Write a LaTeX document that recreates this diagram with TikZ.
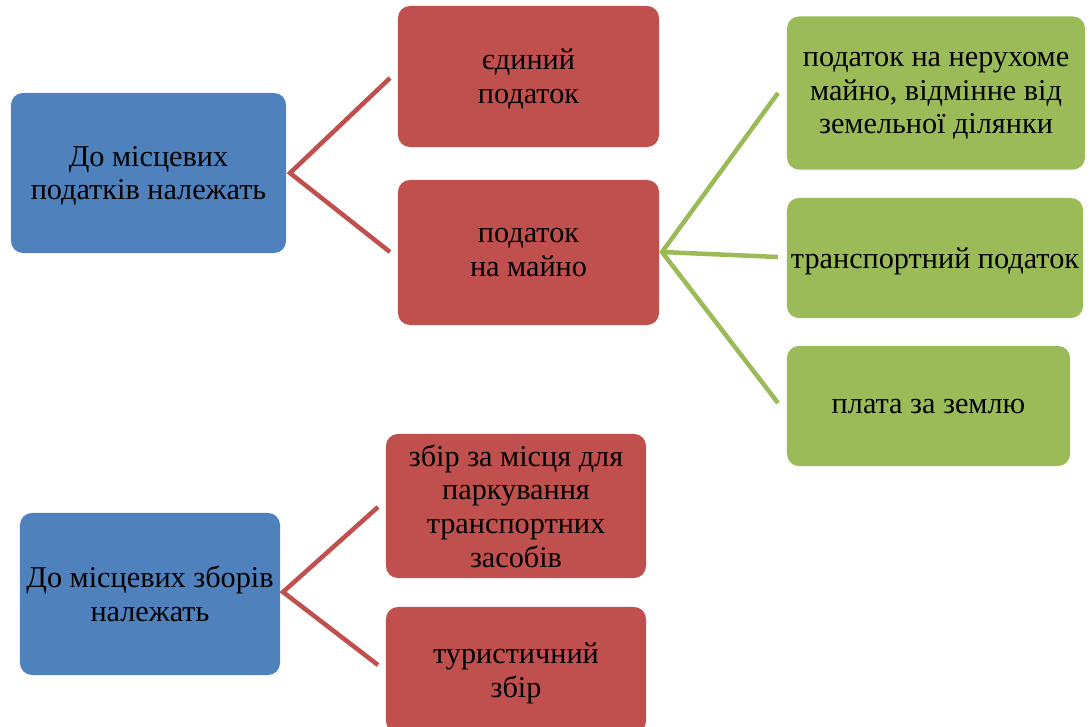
\documentclass[tikz,border=0pt]{standalone}
\usepackage{fontspec}
\setmainfont{Liberation Serif}
\usetikzlibrary{positioning}

\definecolor{boxblue}{HTML}{4F81BD}
\definecolor{boxred}{HTML}{C0504D}
\definecolor{boxgreen}{HTML}{9BBB59}

\begin{document}
\begin{tikzpicture}[
  x=0.025cm, y=-0.025cm,
  box/.style={rectangle, rounded corners=0.3cm, inner sep=2pt, align=center,
              text=black, font=\fontsize{21.5}{24}\selectfont, text depth=-10pt},
  bluebox/.style={box, fill=boxblue},
  redbox/.style={box, fill=boxred},
  greenbox/.style={box, fill=boxgreen},
  redline/.style={draw=boxred, line width=3.2pt},
  greenline/.style={draw=boxgreen, line width=3.2pt}
]
\useasboundingbox (0,0) rectangle (1090,726);

% ---- Local taxes ----
\node[bluebox, minimum width=6.875cm, minimum height=4.0cm] (taxes) at (148.5,173)
  {До місцевих\\податків належать};

\node[redbox, minimum width=6.525cm, minimum height=3.525cm] (single)   at (528.5,76.5)
  {єдиний\\податок};
\node[redbox, minimum width=6.525cm, minimum height=3.625cm] (property) at (528.5,252.5)
  {податок\\на майно};

\node[greenbox, minimum width=7.45cm,  minimum height=3.825cm] (realty)    at (936,93)
  {податок на нерухоме\\майно, відмінне від\\земельної ділянки};
\node[greenbox, minimum width=7.4cm,   minimum height=3.0cm]   (transport) at (935,258)
  {транспортний податок};
\node[greenbox, minimum width=7.075cm, minimum height=3.0cm]   (land)      at (928.5,406)
  {плата за землю};

\coordinate (tax_fork)     at (290,173);
\coordinate (single_end)   at (390,78);
\coordinate (property_end) at (390,252);
\draw[redline] (single_end) -- (tax_fork) -- (property_end);

\coordinate (prop_fork)     at (662,252);
\coordinate (realty_end)    at (778,93);
\coordinate (transport_end) at (778,257);
\coordinate (land_end)      at (778,403);
\draw[greenline] (realty_end) -- (prop_fork) -- (land_end);
\draw[greenline] (prop_fork) -- (transport_end);

% ---- Local fees ----
\node[bluebox, minimum width=6.5cm, minimum height=4.05cm] (fees) at (150,594)
  {До місцевих зборів\\належать};

\node[redbox, minimum width=6.5cm, minimum height=3.6cm]  (parking) at (516,506)
  {збір за місця для\\паркування\\транспортних\\засобів};
\node[redbox, minimum width=6.5cm, minimum height=3.15cm] (tourist) at (516,670)
  {туристичний\\збір};

\coordinate (fee_fork)    at (283,592);
\coordinate (parking_end) at (378,507);
\coordinate (tourist_end) at (378,665);
\draw[redline] (parking_end) -- (fee_fork) -- (tourist_end);

\end{tikzpicture}
\end{document}
